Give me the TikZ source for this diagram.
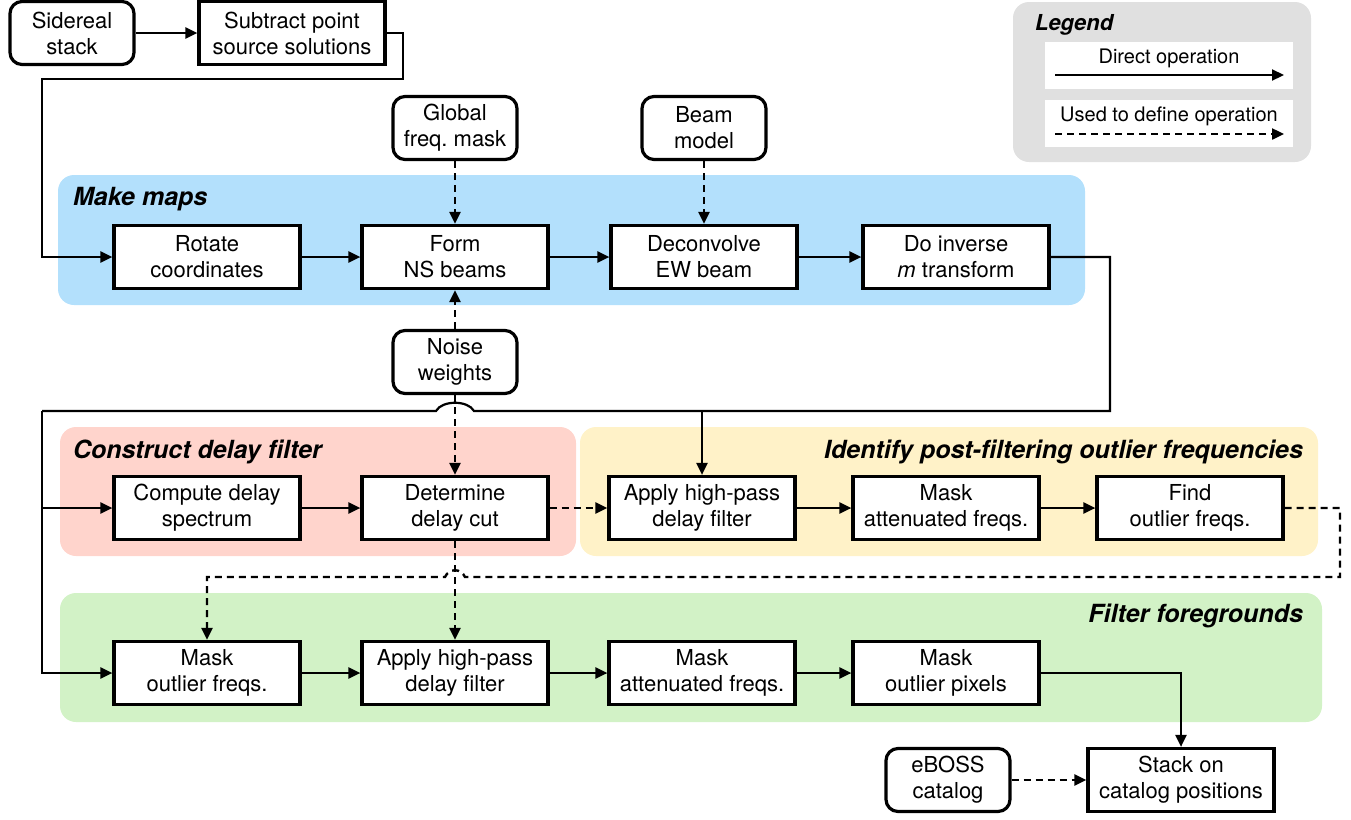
\documentclass[tikz,border=0pt]{standalone}
\usepackage{fontspec}
\setmainfont{TeX Gyre Heros}
\usepackage{tikz}
\usetikzlibrary{arrows.meta}

\definecolor{mapblue}{RGB}{179,224,252}
\definecolor{delayred}{RGB}{255,212,204}
\definecolor{outlieryellow}{RGB}{255,242,200}
\definecolor{fggreen}{RGB}{210,242,198}
\definecolor{legendgray}{RGB}{224,224,224}

\tikzset{
  proc/.style={draw, line width=1.6pt, fill=white, minimum width=93pt, minimum height=31.5pt,
    align=center, inner sep=1pt, font=\fontsize{11}{13}\selectfont},
  src/.style={proc, rounded corners=6pt, minimum width=62pt},
  flow/.style={line width=1.1pt, -{Triangle[length=6pt,width=5.5pt]}},
  uses/.style={flow, line width=1.2pt, dash pattern=on 3.5pt off 2.5pt},
  wire/.style={line width=1.1pt},
  panel/.style={rounded corners=8pt},
  paneltitle/.style={font=\fontsize{12.5}{14}\selectfont\bfseries\itshape},
  legendtext/.style={font=\fontsize{10}{12}\selectfont}
}

\begin{document}
\begin{tikzpicture}[x=0.5pt,y=-0.5pt]
\useasboundingbox (0,0) rectangle (1351,820);

% panels
\fill[panel, mapblue] (58,175) rectangle (1085,305);
\fill[panel, delayred] (60,427) rectangle (576,556);
\fill[panel, outlieryellow] (580,427) rectangle (1318,556);
\fill[panel, fggreen] (60,593) rectangle (1322,722);
\fill[panel, legendgray] (1013,2) rectangle (1311,162);

\node[paneltitle, anchor=west] at (66,199) {Make maps};
\node[paneltitle, anchor=west] at (66,452) {Construct delay filter};
\node[paneltitle, anchor=east] at (1310,452) {Identify post-filtering outlier frequencies};
\node[paneltitle, anchor=east] at (1310,616) {Filter foregrounds};

% legend
\node[paneltitle, anchor=west, font=\fontsize{11}{13}\selectfont\bfseries\itshape] at (1028,25) {Legend};
\fill[white] (1045,42) rectangle (1293,89);
\fill[white] (1045,100) rectangle (1293,147);
\node[legendtext] (direct) at (1169,58) {Direct operation};
\node[legendtext] (define) at (1169,116) {Used to define operation};
\coordinate (da) at (1055,75);
\coordinate (db) at (1284,75);
\coordinate (ua) at (1055,134);
\coordinate (ub) at (1284,134);
\draw[flow] (da) -- (db);
\draw[uses] (ua) -- (ub);

% inputs
\node[src] (stack) at (72,33) {Sidereal\\stack};
\node[proc] (sub) at (292,33) {Subtract point\\source solutions};
\node[src] (gmask) at (455,128) {Global\\freq.\ mask};
\node[src] (beam) at (704,128) {Beam\\model};
\node[src] (noise) at (455,362) {Noise\\weights};
\node[src] (eboss) at (948,780) {eBOSS\\catalog};

% make maps
\node[proc] (rot) at (207,257) {Rotate\\coordinates};
\node[proc] (ns) at (455,257) {Form\\NS beams};
\node[proc] (ew) at (704,257) {Deconvolve\\EW beam};
\node[proc] (inv) at (956,257) {Do inverse\\\textit{m} transform};

% delay filter and outlier frequencies
\node[proc] (spec) at (207,508) {Compute delay\\spectrum};
\node[proc] (cut) at (455,508) {Determine\\delay cut};
\node[proc] (hpa) at (702,508) {Apply high-pass\\delay filter};
\node[proc] (atta) at (946,508) {Mask\\attenuated freqs.};
\node[proc] (find) at (1190,508) {Find\\outlier freqs.};

% filter foregrounds
\node[proc] (mof) at (207,673) {Mask\\outlier freqs.};
\node[proc] (hpb) at (455,673) {Apply high-pass\\delay filter};
\node[proc] (attb) at (702,673) {Mask\\attenuated freqs.};
\node[proc] (pix) at (946,673) {Mask\\outlier pixels};
\node[proc] (stk) at (1181,780) {Stack on\\catalog positions};

\coordinate (split) at (42,411);
\coordinate (tap) at (702,411);

\draw[flow] (stack) -- (sub);
\draw[flow] (sub.east) -- (403,33) -- (403,79) -- (42,79) |- (rot.west);
\draw[flow] (rot) -- (ns);
\draw[flow] (ns) -- (ew);
\draw[flow] (ew) -- (inv);
\draw[uses] (gmask) -- (ns);
\draw[uses] (beam) -- (ew);
\draw[uses] (noise) -- (ns);
\draw[uses] (noise) -- (cut);

% hop over the noise weights line
\draw[wire] (inv.east) -- (1110,257) -- (1110,411) -- (474,411) .. controls (468,400) and (442,400) .. (436,411) -- (split);
\draw[flow] (split) |- (mof.west);
\draw[flow] (split) |- (spec.west);
\draw[flow] (tap) -- (hpa);

\draw[flow] (spec) -- (cut);
\draw[uses] (cut) -- (hpa);
\draw[flow] (hpa) -- (atta);
\draw[flow] (atta) -- (find);
\draw[uses] (find.east) -- (1340,508) -- (1340,577) -- (465,577) .. controls (461,568) and (449,568) .. (445,577) -| (mof.north);
\draw[uses] (cut) -- (hpb);

\draw[flow] (mof) -- (hpb);
\draw[flow] (hpb) -- (attb);
\draw[flow] (attb) -- (pix);
\draw[flow] (pix.east) -| (stk.north);
\draw[uses] (eboss) -- (stk);
\end{tikzpicture}
\end{document}
